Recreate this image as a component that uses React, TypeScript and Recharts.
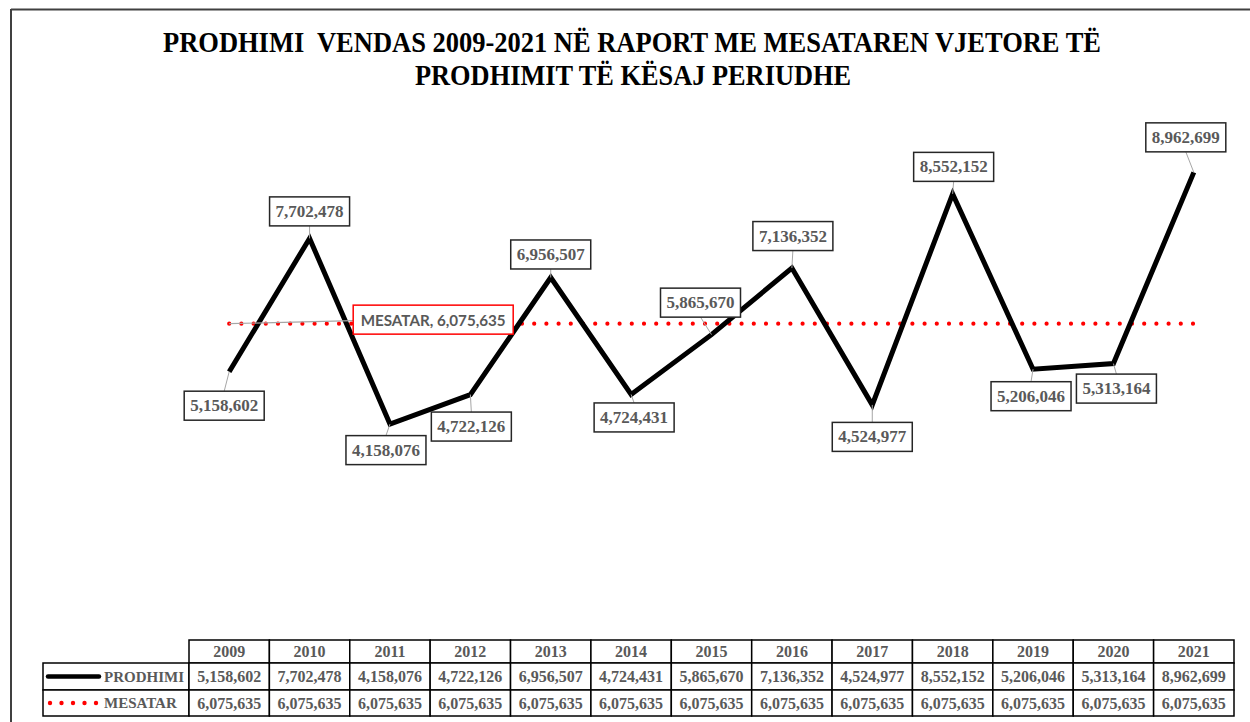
import React from 'react'
import { LineChart, Line, XAxis, YAxis, LabelList } from 'recharts'

const years = ['2009', '2010', '2011', '2012', '2013', '2014', '2015', '2016', '2017', '2018', '2019', '2020', '2021']
const prodhimi = [5158602, 7702478, 4158076, 4722126, 6956507, 4724431, 5865670, 7136352, 4524977, 8552152, 5206046, 5313164, 8962699]
const mesatar = [6075635, 6075635, 6075635, 6075635, 6075635, 6075635, 6075635, 6075635, 6075635, 6075635, 6075635, 6075635, 6075635]
const seriesNames = ['PRODHIMI', 'MESATAR']
const titleLines = ['PRODHIMI  VENDAS 2009-2021 NË RAPORT ME MESATAREN VJETORE TË', 'PRODHIMIT TË KËSAJ PERIUDHE']

// where each value box sits relative to its point (dragged by hand in the original)
const labelOffsets: [number, number][] = [
  [-5, 34], [0, -27], [-4, 26], [1, 32], [0, -23], [3, 23], [-11, -32],
  [1, -32], [0, 32], [1, -27], [-2, 27], [3, 25], [-8, -35],
]

const data = years.map((year, i) => ({ year, prodhimi: prodhimi[i], mesatar: mesatar[i] }))

const W = 1250
const H = 722
const PLOT_LEFT = 189
const PLOT_RIGHT = 16
const CELL_W = (W - PLOT_LEFT - PLOT_RIGHT) / years.length
const TABLE_TOP = 640
const ROWS = [23, 27, 26]
const GRAY = '#595959'
const SERIF = '"Liberation Serif", "Times New Roman", serif'

const fmt = (n: number) => n.toLocaleString('en-US')

function ValueLabel(props: any) {
  const { x, y, value, index } = props
  const [dx, dy] = labelOffsets[index] || [0, -30]
  const bw = 80
  const bh = 29
  const cx = x + dx
  const cy = y + dy
  const edgeY = dy > 0 ? cy - bh / 2 : cy + bh / 2
  return (
    <g>
      <line x1={cx} y1={edgeY} x2={x} y2={y} stroke="#a6a6a6" strokeWidth={1} />
      <rect x={cx - bw / 2} y={cy - bh / 2} width={bw} height={bh} fill="#fff" stroke="#262626" strokeWidth={1.5} />
      <text x={cx} y={cy} textAnchor="middle" dominantBaseline="central" fontFamily={SERIF} fontWeight="bold" fontSize={17} fill={GRAY}>
        {fmt(value)}
      </text>
    </g>
  )
}

function MeanLabel(props: any) {
  const { x, y, value, index } = props
  if (index !== 0) return null
  const bw = 160
  const bh = 29
  const left = x + 124
  const cy = y - 4
  return (
    <g>
      <line x1={x} y1={y} x2={left} y2={cy + 1} stroke="#a6a6a6" strokeWidth={1.2} />
      <rect x={left} y={cy - bh / 2} width={bw} height={bh} fill="#fff" stroke="#ff0000" strokeWidth={1.5} />
      <text x={left + bw / 2} y={cy} textAnchor="middle" dominantBaseline="central" fontFamily="Lato, 'Liberation Sans', sans-serif" fontWeight="bold" fontSize={16} fill={GRAY} textLength={145} lengthAdjust="spacingAndGlyphs">
        {`${seriesNames[1]}, ${fmt(value)}`}
      </text>
    </g>
  )
}

function LegendCells({ right }: { right: number }) {
  const left = 43
  const r1 = TABLE_TOP + ROWS[0]
  const r2 = r1 + ROWS[1]
  return (
    <g>
      <rect x={left} y={r1} width={right - left} height={ROWS[1]} fill="#fff" stroke="#000" strokeWidth={1.5} />
      <rect x={left} y={r2} width={right - left} height={ROWS[2]} fill="#fff" stroke="#000" strokeWidth={1.5} />
      <line x1={48} y1={r1 + ROWS[1] / 2} x2={99} y2={r1 + ROWS[1] / 2} stroke="#000" strokeWidth={4.5} strokeLinecap="round" />
      {[0, 1, 2, 3, 4].map((k) => (
        <circle key={k} cx={50 + k * 11.5} cy={r2 + ROWS[2] / 2} r={2.2} fill="#ff0000" />
      ))}
      <text x={104} y={r1 + ROWS[1] / 2} dominantBaseline="central" fontFamily={SERIF} fontWeight="bold" fontSize={15} fill={GRAY}>
        {seriesNames[0]}
      </text>
      <text x={104} y={r2 + ROWS[2] / 2} dominantBaseline="central" fontFamily={SERIF} fontWeight="bold" fontSize={15} fill={GRAY}>
        {seriesNames[1]}
      </text>
    </g>
  )
}

function TableTick(props: any) {
  const { x, payload } = props
  const i = payload.index
  const left = x - CELL_W / 2
  const rowsText = [years[i], fmt(prodhimi[i]), fmt(mesatar[i])]
  let top = TABLE_TOP
  return (
    <g>
      {i === 0 && <LegendCells right={left} />}
      {rowsText.map((t, r) => {
        const y0 = top
        top += ROWS[r]
        return (
          <g key={r}>
            <rect x={left} y={y0} width={CELL_W} height={ROWS[r]} fill="#fff" stroke="#000" strokeWidth={1.5} />
            <text x={x} y={y0 + ROWS[r] / 2} textAnchor="middle" dominantBaseline="central" fontFamily={SERIF} fontWeight="bold" fontSize={16} fill={GRAY}>
              {t}
            </text>
          </g>
        )
      })}
    </g>
  )
}

export default function App() {
  return (
    <div style={{ position: 'absolute', left: 0, top: 0, width: W, height: H, background: '#fff' }}>
      <LineChart width={W} height={H} data={data} margin={{ top: 118, right: PLOT_RIGHT, left: PLOT_LEFT, bottom: 0 }}>
        <XAxis
          dataKey="year"
          height={80}
          axisLine={false}
          tickLine={false}
          tickSize={0}
          tickMargin={0}
          interval={0}
          padding={{ left: CELL_W / 2, right: CELL_W / 2 }}
          tick={<TableTick />}
        />
        <YAxis hide domain={[0, 10000000]} />
        <Line
          dataKey="mesatar"
          type="linear"
          stroke="#ff0000"
          strokeWidth={4.2}
          strokeDasharray="0 12.2"
          strokeLinecap="round"
          dot={false}
          activeDot={false}
          isAnimationActive={false}
        >
          <LabelList dataKey="mesatar" content={<MeanLabel />} />
        </Line>
        <Line
          dataKey="prodhimi"
          type="linear"
          stroke="#000"
          strokeWidth={5}
          strokeLinejoin="miter"
          dot={false}
          activeDot={false}
          isAnimationActive={false}
        >
          <LabelList dataKey="prodhimi" content={<ValueLabel />} />
        </Line>
      </LineChart>
      <svg width={W} height={H} style={{ position: 'absolute', left: 0, top: 0, pointerEvents: 'none' }}>
        <line x1={11} y1={9.5} x2={W} y2={9.5} stroke="#404040" strokeWidth={2} />
        <line x1={11} y1={9} x2={11} y2={H} stroke="#404040" strokeWidth={2} />
        <text x={632} y={52} textAnchor="middle" fontFamily={SERIF} fontWeight="bold" fontSize={30} fill="#000" textLength={938} lengthAdjust="spacingAndGlyphs" style={{ whiteSpace: 'pre' }}>
          {titleLines[0]}
        </text>
        <text x={633} y={85} textAnchor="middle" fontFamily={SERIF} fontWeight="bold" fontSize={30} fill="#000" textLength={436} lengthAdjust="spacingAndGlyphs">
          {titleLines[1]}
        </text>
      </svg>
    </div>
  )
}
